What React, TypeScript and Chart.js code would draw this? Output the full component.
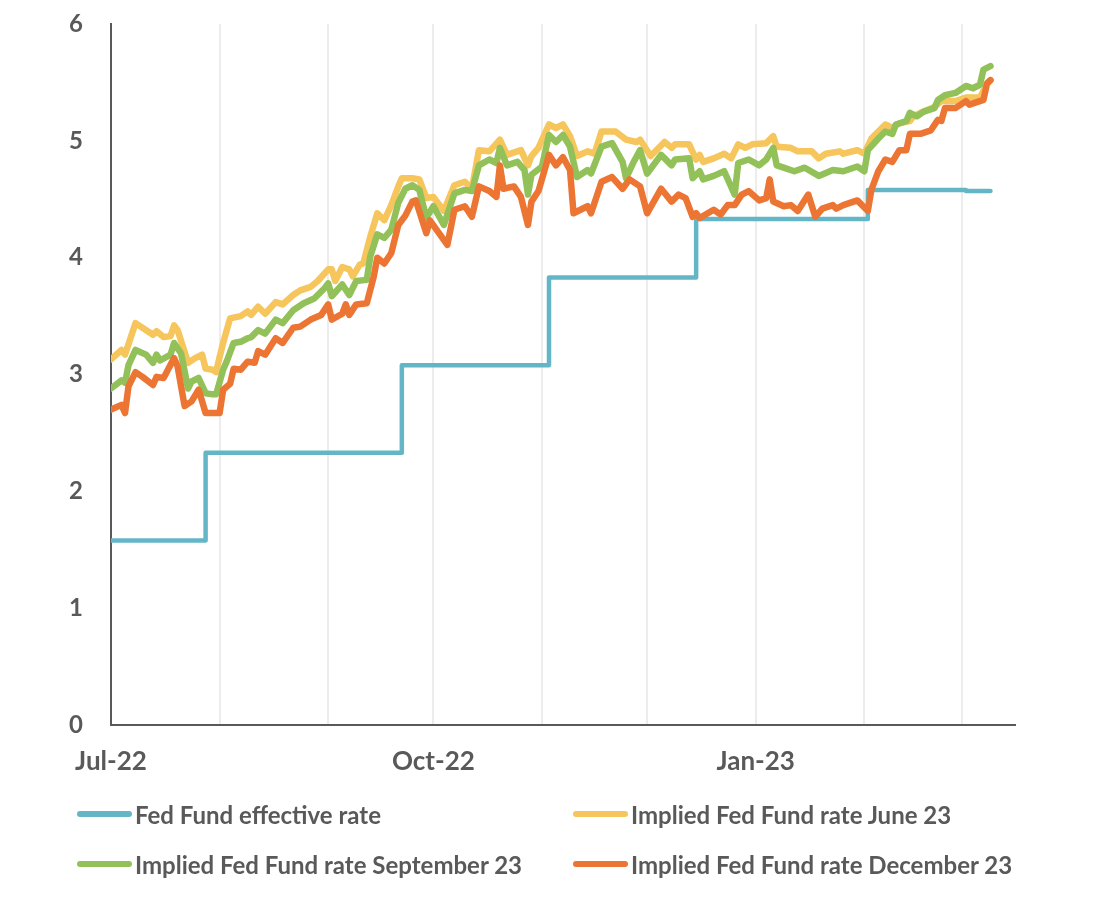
import React, { useEffect, useRef } from "react";
import { Chart, registerables } from "chart.js";

Chart.register(...registerables);

// Days since 1 Jul 2022
const monthStartDays = [0, 31, 62, 92, 123, 153, 184, 215, 243];
const monthLabels = ["Jul-22", "", "", "Oct-22", "", "", "Jan-23", "", ""];

const fedDays = [0, 27, 83, 125, 167, 216, 238, 244, 251];
const fedRates = [1.58, 2.33, 3.08, 3.83, 4.33, 4.58, 4.58, 4.57, 4.57];

const juneDays = [0, 3, 4, 7, 11, 12, 13, 15, 17, 18, 19, 22, 24, 26, 27, 29, 30, 31, 32, 34, 37, 39, 40, 42, 44, 47, 49, 52, 54, 57, 59, 62, 63, 64, 66, 68, 69, 71, 72, 74, 76, 78, 80, 82, 83, 86, 88, 90, 92, 95, 98, 101, 103, 105, 108, 111, 113, 117, 119, 120, 122, 125, 127, 129, 131, 133, 136, 138, 140, 144, 147, 150, 151, 154, 158, 160, 161, 165, 167, 168, 169, 172, 175, 177, 179, 181, 183, 187, 189, 190, 194, 196, 200, 202, 204, 208, 209, 213, 215, 217, 221, 223, 225, 228, 229, 231, 235, 237, 241, 244, 245, 248, 250, 251];
const juneRates = [3.13, 3.21, 3.17, 3.44, 3.36, 3.34, 3.37, 3.32, 3.33, 3.42, 3.38, 3.10, 3.14, 3.17, 3.05, 3.04, 3.02, 3.15, 3.27, 3.48, 3.50, 3.54, 3.51, 3.58, 3.52, 3.62, 3.60, 3.68, 3.72, 3.75, 3.80, 3.90, 3.90, 3.80, 3.92, 3.90, 3.84, 3.94, 3.95, 4.18, 4.38, 4.32, 4.45, 4.61, 4.68, 4.68, 4.67, 4.51, 4.52, 4.40, 4.62, 4.65, 4.59, 4.92, 4.91, 5.01, 4.88, 4.92, 4.79, 4.87, 4.94, 5.14, 5.11, 5.14, 5.04, 4.87, 4.91, 4.89, 5.08, 5.08, 5.01, 4.99, 5.01, 4.87, 4.99, 4.94, 4.97, 4.97, 4.84, 4.88, 4.82, 4.85, 4.89, 4.85, 4.97, 4.94, 4.97, 4.98, 5.04, 4.95, 4.94, 4.91, 4.91, 4.85, 4.89, 4.91, 4.89, 4.92, 4.89, 5.02, 5.14, 5.11, 5.15, 5.17, 5.21, 5.24, 5.29, 5.34, 5.34, 5.37, 5.37, 5.37, 5.49, 5.52];

const septDays = [0, 3, 4, 5, 7, 10, 12, 13, 14, 17, 18, 20, 22, 23, 25, 27, 29, 30, 32, 33, 35, 37, 39, 40, 42, 44, 47, 49, 52, 55, 58, 61, 62, 63, 66, 68, 70, 73, 74, 76, 78, 80, 82, 84, 86, 88, 90, 92, 95, 98, 101, 103, 105, 108, 110, 111, 113, 116, 118, 119, 120, 123, 125, 127, 129, 131, 133, 136, 137, 140, 143, 146, 147, 149, 151, 153, 157, 160, 161, 165, 166, 168, 169, 172, 175, 178, 179, 182, 185, 187, 189, 190, 192, 195, 198, 202, 206, 209, 213, 215, 216, 219, 221, 223, 224, 227, 228, 230, 232, 235, 236, 238, 241, 244, 246, 248, 249, 251];
const septRates = [2.88, 2.95, 2.93, 3.08, 3.21, 3.17, 3.10, 3.17, 3.12, 3.17, 3.27, 3.18, 2.88, 2.94, 2.97, 2.84, 2.83, 2.83, 3.04, 3.11, 3.27, 3.28, 3.31, 3.32, 3.38, 3.35, 3.47, 3.44, 3.55, 3.61, 3.65, 3.74, 3.78, 3.67, 3.77, 3.68, 3.80, 3.81, 4.01, 4.20, 4.17, 4.24, 4.47, 4.59, 4.62, 4.58, 4.34, 4.44, 4.28, 4.55, 4.58, 4.57, 4.79, 4.84, 4.81, 4.94, 4.79, 4.82, 4.75, 4.54, 4.71, 4.78, 5.05, 4.99, 5.05, 4.95, 4.69, 4.75, 4.72, 4.95, 4.98, 4.82, 4.68, 4.81, 4.92, 4.72, 4.88, 4.79, 4.84, 4.85, 4.68, 4.74, 4.67, 4.70, 4.74, 4.54, 4.81, 4.84, 4.79, 4.84, 4.94, 4.79, 4.77, 4.74, 4.77, 4.70, 4.75, 4.74, 4.78, 4.74, 4.92, 5.02, 5.08, 5.06, 5.14, 5.17, 5.24, 5.21, 5.25, 5.28, 5.35, 5.39, 5.41, 5.47, 5.45, 5.48, 5.61, 5.64];

const decDays = [0, 3, 4, 5, 7, 9, 12, 13, 15, 18, 19, 21, 23, 25, 27, 29, 31, 32, 34, 35, 37, 39, 41, 42, 44, 47, 49, 52, 54, 57, 60, 62, 63, 66, 67, 68, 70, 73, 75, 76, 78, 80, 82, 84, 86, 87, 90, 91, 96, 98, 101, 103, 105, 108, 110, 111, 112, 115, 117, 119, 120, 122, 125, 127, 129, 131, 132, 136, 137, 140, 143, 146, 148, 151, 153, 157, 160, 162, 164, 166, 167, 168, 172, 174, 176, 178, 180, 182, 185, 187, 188, 189, 192, 194, 196, 199, 201, 203, 206, 207, 209, 213, 215, 216, 217, 219, 221, 223, 225, 227, 228, 231, 234, 236, 237, 238, 241, 244, 245, 249, 250, 251];
const decRates = [2.70, 2.74, 2.67, 2.90, 3.02, 2.98, 2.91, 2.98, 2.97, 3.14, 3.07, 2.73, 2.77, 2.87, 2.67, 2.67, 2.67, 2.87, 2.92, 3.05, 3.04, 3.11, 3.10, 3.20, 3.17, 3.31, 3.27, 3.40, 3.41, 3.47, 3.51, 3.60, 3.47, 3.52, 3.60, 3.51, 3.60, 3.61, 3.84, 4.00, 3.95, 4.04, 4.28, 4.36, 4.48, 4.49, 4.21, 4.32, 4.11, 4.41, 4.44, 4.35, 4.61, 4.57, 4.52, 4.79, 4.59, 4.61, 4.52, 4.28, 4.48, 4.57, 4.88, 4.79, 4.86, 4.75, 4.38, 4.44, 4.38, 4.65, 4.69, 4.59, 4.67, 4.61, 4.38, 4.59, 4.48, 4.54, 4.51, 4.35, 4.38, 4.34, 4.41, 4.37, 4.45, 4.45, 4.54, 4.57, 4.49, 4.51, 4.67, 4.48, 4.44, 4.45, 4.40, 4.54, 4.35, 4.42, 4.45, 4.42, 4.45, 4.49, 4.43, 4.40, 4.58, 4.74, 4.84, 4.82, 4.92, 4.92, 5.06, 5.06, 5.09, 5.18, 5.17, 5.28, 5.28, 5.34, 5.31, 5.35, 5.49, 5.52];

const seriesNames = [
  "Fed Fund effective rate",
  "Implied Fed Fund rate June 23",
  "Implied Fed Fund rate September 23",
  "Implied Fed Fund rate December 23",
];
const seriesColors = ["#64b6c7", "#f6c55c", "#93c159", "#ec7533"];

const TEXT = "#595959";
const FONT = "Lato, 'Open Sans', sans-serif";

function pts(days: number[], vals: number[]) {
  return days.map((d, i) => ({ x: d, y: vals[i] }));
}

export default function App() {
  const ref = useRef<HTMLCanvasElement | null>(null);

  useEffect(() => {
    if (!ref.current) return;
    const common = {
      pointRadius: 0,
      tension: 0,
      borderJoinStyle: "round" as const,
      borderCapStyle: "round" as const,
      fill: false,
    };
    const chart = new Chart(ref.current, {
      type: "line",
      data: {
        datasets: [
          { ...common, label: seriesNames[0], data: pts(fedDays, fedRates), borderColor: seriesColors[0], borderWidth: 4.5, stepped: "before", order: 3 },
          { ...common, label: seriesNames[1], data: pts(juneDays, juneRates), borderColor: seriesColors[1], borderWidth: 6.5, order: 2 },
          { ...common, label: seriesNames[2], data: pts(septDays, septRates), borderColor: seriesColors[2], borderWidth: 6.5, order: 1 },
          { ...common, label: seriesNames[3], data: pts(decDays, decRates), borderColor: seriesColors[3], borderWidth: 6.5, order: 0 },
        ],
      },
      options: {
        animation: false,
        responsive: false,
        maintainAspectRatio: false,
        layout: { padding: { left: 0, right: 87, top: 24, bottom: 0 } },
        plugins: { legend: { display: false }, tooltip: { enabled: false } },
        scales: {
          x: {
            type: "linear",
            min: 0,
            max: 258,
            afterFit: (s: any) => { s.height = 173; },
            afterBuildTicks: (s: any) => { s.ticks = monthStartDays.map((v) => ({ value: v })); },
            ticks: {
              autoSkip: false,
              maxRotation: 0,
              padding: 21,
              color: TEXT,
              font: { family: FONT, size: 26, weight: "bold" },
              callback: (_v: any, i: number) => monthLabels[i],
            },
            grid: { display: true, color: "#ececec", lineWidth: 2, drawTicks: false },
            border: { display: true, color: "#595959", width: 2 },
          },
          y: {
            min: 0,
            max: 6,
            afterFit: (s: any) => {
              s.width = 111;
              s.paddingTop = 0;
              s.paddingBottom = 0;
            },
            ticks: {
              stepSize: 1,
              padding: 28,
              color: TEXT,
              font: { family: FONT, size: 24, weight: "bold" },
            },
            grid: { display: false, drawTicks: false },
            border: { display: true, color: "#595959", width: 2 },
          },
        },
      },
    });
    return () => chart.destroy();
  }, []);

  const legendPos = [
    { left: 77, top: 814 },
    { left: 573, top: 814 },
    { left: 77, top: 864 },
    { left: 573, top: 864 },
  ];

  return (
    <div style={{ position: "absolute", left: 0, top: 0, width: 1102, height: 898, background: "#fff" }}>
      <canvas ref={ref} width={1102} height={898} style={{ position: "absolute", left: 0, top: 0, width: 1102, height: 898 }} />
      {seriesNames.map((name, i) => (
        <div
          key={name}
          style={{
            position: "absolute",
            left: legendPos[i].left,
            top: legendPos[i].top - 16,
            height: 32,
            display: "flex",
            alignItems: "center",
            whiteSpace: "nowrap",
            fontFamily: FONT,
            fontWeight: 700,
            fontSize: 24,
            color: TEXT,
          }}
        >
          <span style={{ display: "inline-block", width: 55, height: 6, borderRadius: 3, background: seriesColors[i], marginRight: 3 }} />
          <span>{name}</span>
        </div>
      ))}
    </div>
  );
}
